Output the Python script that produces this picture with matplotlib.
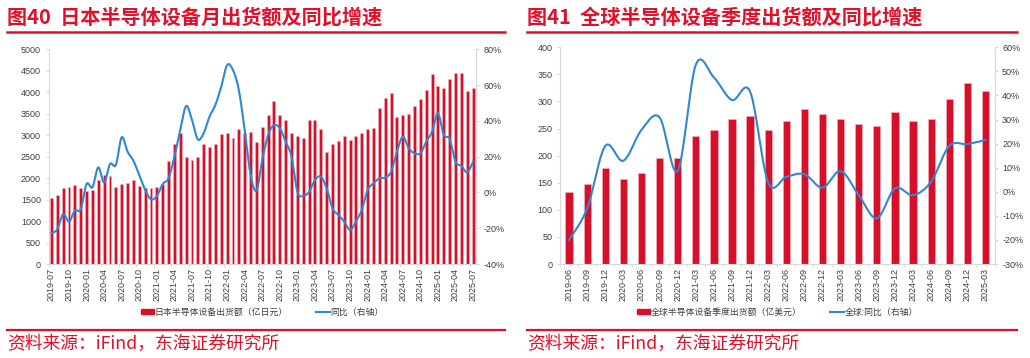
import numpy as np
import matplotlib
matplotlib.use("Agg")
import matplotlib.pyplot as plt
from matplotlib.patches import Patch
from matplotlib.lines import Line2D

# ---------------- data ----------------
jp_months = [f"{y}-{m:02d}" for y in range(2019, 2026) for m in range(1, 13)]
jp_months = jp_months[jp_months.index("2019-07"):jp_months.index("2025-07") + 1]

jp_value = [1530, 1600, 1770, 1800, 1840, 1770, 1700, 1716, 1957, 2073, 2042, 1793,
            1871, 1879, 1957, 1817, 1770, 1762, 1800, 1863, 2399, 2803, 3044, 2484,
            2422, 2500, 2787, 2717, 2803, 3020, 3059, 2927, 3137, 3044, 3074, 2842,
            3191, 3463, 3797, 3463, 3346, 3059, 2989, 2935, 3354, 3354, 3144, 2601,
            2803, 2865, 2981, 2888, 2989, 3051, 3137, 3160, 3641, 3866, 3991, 3424,
            3463, 3486, 3680, 3843, 4045, 4425, 4154, 4107, 4309, 4456, 4449, 4037,
            4091]
jp_yoy = [-22.8, -20.6, -12.0, -16.3, -10.2, -9.4, 4.7, 2.9, 14.0, 5.5, 15.9, 15.4,
          30.8, 22.8, 17.7, 9.7, 1.4, -3.8, -2.0, 4.7, 7.9, 20.0, 34.9, 48.3,
          40.5, 29.7, 33.1, 42.4, 48.9, 59.1, 71.2, 68.4, 57.3, 34.9, 10.0, 1.0,
          18.1, 32.1, 37.7, 35.8, 28.4, 20.0, 0.4, -2.0, 0.4, 7.0, 8.8, 2.3,
          -8.9, -12.6, -16.3, -21.0, -16.3, -9.8, 1.4, 5.1, 7.9, 8.3, 11.6, 22.8,
          31.2, 24.7, 21.9, 21.9, 28.4, 34.0, 44.2, 32.1, 29.9, 17.2, 14.8, 11.2,
          17.2]

gl_quarters = ["2019-06", "2019-09", "2019-12", "2020-03", "2020-06", "2020-09",
               "2020-12", "2021-03", "2021-06", "2021-09", "2021-12", "2022-03",
               "2022-06", "2022-09", "2022-12", "2023-03", "2023-06", "2023-09",
               "2023-12", "2024-03", "2024-06", "2024-09", "2024-12", "2025-03"]
gl_value = [132, 148, 178, 156, 168, 195, 195, 236, 248, 268, 273, 247,
            264, 287, 277, 268, 258, 255, 280, 264, 268, 304, 335, 319]
gl_yoy = [-20.0, -6.9, 19.0, 12.9, 25.7, 30.9, 8.7, 52.7, 47.5, 38.1, 41.6, 3.8,
          6.2, 7.3, 1.7, 8.6, -1.4, -11.0, 1.4, -1.4, 4.2, 19.0, 19.8, 21.5]

titles = ["图40  日本半导体设备月出货额及同比增速", "图41  全球半导体设备季度出货额及同比增速"]
legend_bar = ["日本半导体设备出货额（亿日元）", "全球半导体设备季度出货额（亿美元）"]
legend_line = ["同比（右轴）", "全球:同比（右轴）"]
source = "资料来源：iFind，东海证券研究所"

# ---------------- style ----------------
RED = "#D7102A"
TITLE_RED = "#E0102A"
BLUE = "#2F88D2"
GRAY_TXT = "#404040"
SPINE = "#D9D9D9"
NUMF = ["Liberation Sans", "Noto Sans CJK SC", "DejaVu Sans"]
CJK = ["Noto Sans CJK SC", "DejaVu Sans"]


def smooth(x, y, n=20):
    x = np.asarray(x, float)
    y = np.asarray(y, float)
    P = np.column_stack([x, y])
    P = np.vstack([P[0], P, P[-1]])
    out = []
    t = np.linspace(0, 1, n, endpoint=False)[:, None]
    for i in range(1, len(P) - 2):
        p0, p1, p2, p3 = P[i - 1], P[i], P[i + 1], P[i + 2]
        c1 = p1 + (p2 - p0) / 6.0
        c2 = p2 - (p3 - p1) / 6.0
        seg = ((1 - t) ** 3) * p1 + 3 * ((1 - t) ** 2) * t * c1 + 3 * (1 - t) * t ** 2 * c2 + t ** 3 * p2
        out.append(seg)
    out.append(P[-2][None, :])
    out = np.vstack(out)
    return out[:, 0], out[:, 1]


fig = plt.figure(figsize=(10.30, 3.58), dpi=100)


def panel(rect, cats, vals, yoy, bar_w, ylim, yticks, y2lim, y2ticks, step, title,
          lb, ll, tx0, tx1, leg_x):
    ax = fig.add_axes(rect)
    x = np.arange(len(cats))
    ax.bar(x, vals, width=bar_w, color=RED, edgecolor="#F3B5BE", linewidth=0.4, zorder=2)
    ax.set_xlim(-0.5, len(cats) - 0.5)
    ax.set_ylim(*ylim)
    ax.set_yticks(yticks)
    ax.set_yticklabels([str(v) for v in yticks], fontsize=6.5, color=GRAY_TXT, family=NUMF)
    ax.set_xticks(x[::step])
    ax.set_xticklabels(cats[::step], rotation=90, fontsize=6.5, color=GRAY_TXT, family=NUMF)
    ax.set_xticks(np.arange(-0.5, len(cats), step), minor=True)
    ax.tick_params(axis="x", which="major", length=0, pad=3)
    ax.tick_params(axis="x", which="minor", length=2.5, color=SPINE)
    ax.tick_params(axis="y", length=2.5, color=SPINE, pad=3)
    for s in ["top", "right"]:
        ax.spines[s].set_visible(False)
    for s in ["left", "bottom"]:
        ax.spines[s].set_color(SPINE)
        ax.spines[s].set_linewidth(0.8)

    ax2 = ax.twinx()
    sx, sy = smooth(x, yoy)
    ax2.plot(sx, sy, color=BLUE, lw=1.5, zorder=3)
    ax2.set_ylim(*y2lim)
    ax2.set_yticks(y2ticks)
    ax2.set_yticklabels([f"{v}%" for v in y2ticks], fontsize=6.5, color=GRAY_TXT, family=NUMF)
    ax2.tick_params(axis="y", length=2.5, color=SPINE, pad=3)
    for s in ["top", "left", "bottom"]:
        ax2.spines[s].set_visible(False)
    ax2.spines["right"].set_color(SPINE)
    ax2.spines["right"].set_linewidth(0.8)
    ax2.set_xlim(-0.5, len(cats) - 0.5)

    # title + rules
    fig.text(tx0 / 1030, 1 - 17 / 358, title, fontsize=14.5, color=TITLE_RED, weight="bold",
             family=CJK, va="center", ha="left")
    fig.add_artist(Line2D([tx0 / 1030, tx1 / 1030], [1 - 32 / 358] * 2, color=TITLE_RED, lw=1.8))
    fig.add_artist(Line2D([tx0 / 1030, tx1 / 1030], [1 - 329.5 / 358] * 2, color=TITLE_RED, lw=1.6))
    fig.text(tx0 / 1030, 1 - 343.5 / 358, source, fontsize=12.8, color=TITLE_RED,
             family=CJK, va="center", ha="left")

    handles = [Patch(facecolor=RED, edgecolor=RED), Line2D([0], [0], color=BLUE, lw=1.5)]
    fig.legend(handles, [lb, ll], loc="center", bbox_to_anchor=(leg_x, 1 - 312 / 358),
               ncol=2, frameon=False, prop={"family": CJK, "size": 6.4},
               handlelength=1.5, handleheight=0.55, handletextpad=0.1, columnspacing=3.2,
               labelcolor=GRAY_TXT)
    return ax, ax2


panel([48.5 / 1030, 1 - 264 / 358, (476 - 48.5) / 1030, (264 - 49.3) / 358],
      jp_months, jp_value, jp_yoy, 0.5, (0, 5000), list(range(0, 5001, 500)),
      (-40, 80), list(range(-40, 81, 20)), 3, titles[0], legend_bar[0], legend_line[0],
      7, 505, (48.5 + 476) / 2 / 1030)

panel([560 / 1030, 1 - 264 / 358, (994.5 - 560) / 1030, (264 - 47.3) / 358],
      gl_quarters, gl_value, gl_yoy, 0.4, (0, 400), list(range(0, 401, 50)),
      (-30, 60), list(range(-30, 61, 10)), 1, titles[1], legend_bar[1], legend_line[1],
      527, 1017, (560 + 994.5) / 2 / 1030)

fig.savefig("out.png", dpi=100, facecolor="white")
